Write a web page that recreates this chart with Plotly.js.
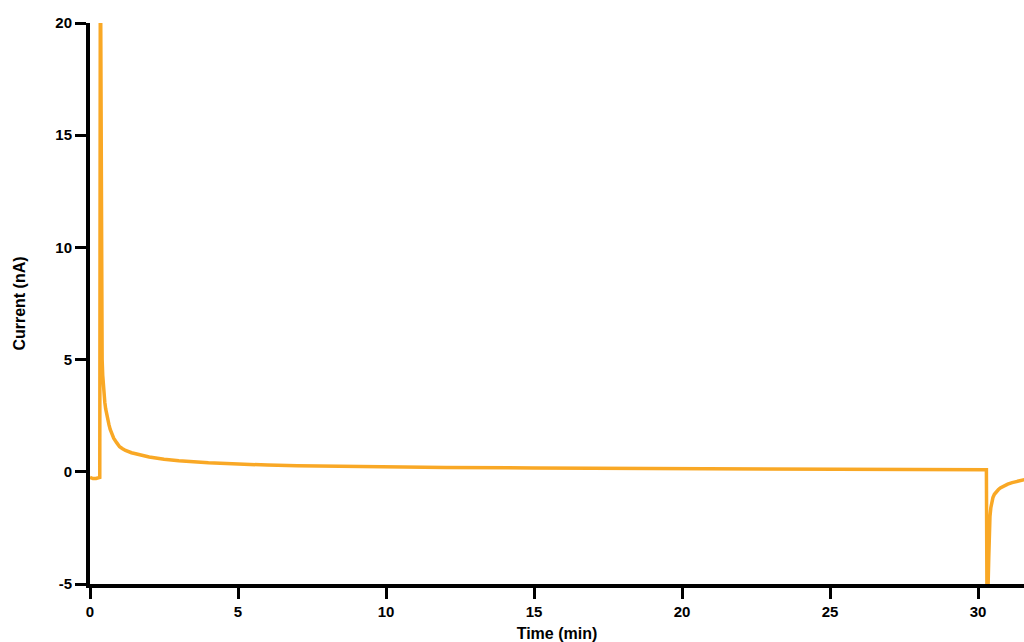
<!DOCTYPE html>
<html>
<head>
<meta charset="utf-8">
<script src="https://cdn.plot.ly/plotly-3.0.1.min.js"></script>
<style>html,body{margin:0;padding:0;background:#fff;}#chart{width:1024px;height:642px;}</style>
</head>
<body>
<div id="chart"></div>
<script>
const timeMin = [0, 0.1, 0.2, 0.3, 0.33, 0.35, 0.37, 0.39, 0.41, 0.43, 0.45, 0.48, 0.5, 0.53, 0.56, 0.6, 0.64, 0.68, 0.74, 0.8, 0.9, 1.0, 1.1, 1.2, 1.4, 1.7, 2.0, 2.5, 3.0, 4.0, 5.0, 6, 7, 8, 10, 12, 15, 18, 20, 22, 25, 28, 30.28, 30.3, 30.33, 30.36, 30.38, 30.4, 30.43, 30.46, 30.5, 30.55, 30.6, 30.68, 30.75, 30.85, 31.0, 31.15, 31.3, 31.45, 31.6];
const currentNA = [-0.25, -0.3, -0.3, -0.27, -0.25, 24, 14, 7.5, 5.0, 4.3, 3.8, 3.4, 3.1, 2.8, 2.55, 2.3, 2.1, 1.9, 1.7, 1.5, 1.3, 1.12, 1.03, 0.95, 0.85, 0.74, 0.66, 0.56, 0.49, 0.4, 0.34, 0.3, 0.27, 0.25, 0.22, 0.19, 0.17, 0.15, 0.14, 0.13, 0.11, 0.1, 0.09, -6, -5.5, -3.8, -2.6, -2.0, -1.6, -1.35, -1.15, -1.0, -0.9, -0.8, -0.72, -0.64, -0.55, -0.48, -0.43, -0.38, -0.34];
const xTicks = [0, 5, 10, 15, 20, 25, 30];
const yTicks = [-5, 0, 5, 10, 15, 20];

const font = {family: 'Liberation Sans, Arial, sans-serif', color: '#000', size: 15, weight: 'bold'};

Plotly.newPlot('chart', [{
  x: timeMin, y: currentNA, type: 'scatter', mode: 'lines',
  line: {color: '#F9A825', width: 3.5, shape: 'linear'},
  hoverinfo: 'skip'
}], {
  width: 1024, height: 642,
  margin: {l: 90, r: 0, t: 23, b: 58},
  paper_bgcolor: '#fff', plot_bgcolor: '#fff',
  showlegend: false,
  font: font,
  xaxis: {
    range: [0, 31.55], tickvals: xTicks, ticktext: xTicks.map(String),
    showgrid: false, zeroline: false, showline: true, linecolor: '#000', linewidth: 4,
    ticks: 'outside', ticklen: 11, tickwidth: 3, tickcolor: '#000',
    tickfont: font,
    title: {text: 'Time (min)', font: {family: font.family, size: 16, weight: 'bold', color: '#000'}, standoff: 10},
    automargin: false
  },
  yaxis: {
    range: [-5, 20], tickvals: yTicks, ticktext: yTicks.map(String),
    showgrid: false, zeroline: false, showline: true, linecolor: '#000', linewidth: 4,
    ticks: 'outside', ticklen: 11, tickwidth: 3, tickcolor: '#000',
    tickfont: font,
    title: {text: 'Current (nA)', font: {family: font.family, size: 16, weight: 'bold', color: '#000'}, standoff: 27},
    automargin: false
  }
}, {displayModeBar: false, staticPlot: true});
</script>
</body>
</html>
